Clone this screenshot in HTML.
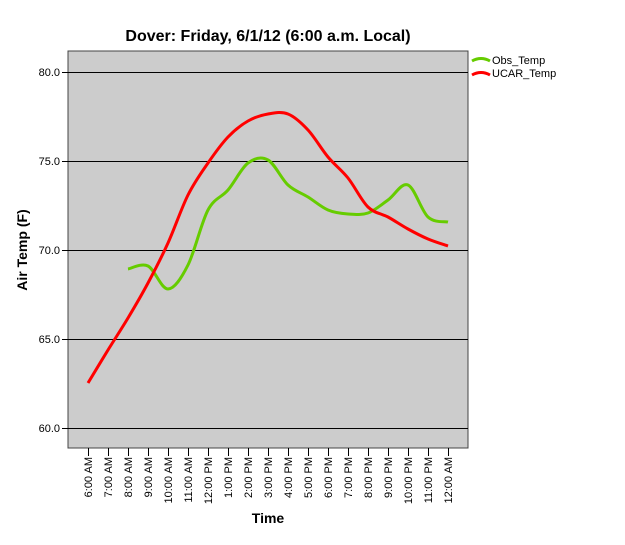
<!DOCTYPE html>
<html><head><meta charset="utf-8"><style>
body{margin:0;background:#fff;}
svg text{font-family:"Liberation Sans",Arial,sans-serif;}
</style></head><body>
<svg id="s" width="625" height="540" viewBox="0 0 625 540" xmlns="http://www.w3.org/2000/svg">
<rect width="625" height="540" fill="#fff"/>
<text x="268" y="41" font-size="16" font-weight="bold" text-anchor="middle">Dover: Friday, 6/1/12 (6:00 a.m. Local)</text>
<rect x="68" y="51" width="400" height="397" fill="#cccccc" stroke="#444" stroke-width="1"/>
<g stroke="#000" stroke-width="1">
<line x1="68" y1="72.5" x2="468" y2="72.5"/>
<line x1="68" y1="161.5" x2="468" y2="161.5"/>
<line x1="68" y1="250.5" x2="468" y2="250.5"/>
<line x1="68" y1="339.5" x2="468" y2="339.5"/>
<line x1="68" y1="428.5" x2="468" y2="428.5"/>
<line x1="62" y1="72.5" x2="68" y2="72.5"/>
<line x1="62" y1="161.5" x2="68" y2="161.5"/>
<line x1="62" y1="250.5" x2="68" y2="250.5"/>
<line x1="62" y1="339.5" x2="68" y2="339.5"/>
<line x1="62" y1="428.5" x2="68" y2="428.5"/>
</g>
<g font-size="11" text-anchor="end">
<text x="60" y="76">80.0</text>
<text x="60" y="165">75.0</text>
<text x="60" y="254">70.0</text>
<text x="60" y="343">65.0</text>
<text x="60" y="432">60.0</text>
</g>
<text transform="translate(27,250) rotate(-90)" font-size="14" font-weight="bold" text-anchor="middle">Air Temp (F)</text>
<text x="268" y="523" font-size="14" font-weight="bold" text-anchor="middle">Time</text>
<g id="ticks"></g>
<path id="obs" fill="none" stroke="#66cc00" stroke-width="3"/>
<path id="ucar" fill="none" stroke="#ff0000" stroke-width="3"/>
<path d="M472 61 q9 -5 18 0" fill="none" stroke="#66cc00" stroke-width="3"/>
<path d="M472 75 q9 -5 18 0" fill="none" stroke="#ff0000" stroke-width="3"/>
<text x="492" y="64" font-size="11">Obs_Temp</text>
<text x="492" y="77" font-size="11">UCAR_Temp</text>
</svg>
<script>
var labels=["6:00 AM","7:00 AM","8:00 AM","9:00 AM","10:00 AM","11:00 AM","12:00 PM","1:00 PM","2:00 PM","3:00 PM","4:00 PM","5:00 PM","6:00 PM","7:00 PM","8:00 PM","9:00 PM","10:00 PM","11:00 PM","12:00 AM"];
var g=document.getElementById('ticks'),h='';
labels.forEach(function(l,i){var x=88+20*i;
h+='<line x1="'+(x+.5)+'" y1="448" x2="'+(x+.5)+'" y2="456" stroke="#000"/>';
h+='<text transform="translate('+(x+4)+',457) rotate(-90)" font-size="11" text-anchor="end">'+l+'</text>';});
g.innerHTML=h;
function path(p){var d='M'+p[0][0]+' '+p[0][1];
for(var i=0;i<p.length-1;i++){var a=p[i-1]||p[i],b=p[i],c=p[i+1],e=p[i+2]||c;
d+=' C'+(b[0]+(c[0]-a[0])/6)+' '+(b[1]+(c[1]-a[1])/6)+' '+(c[0]-(e[0]-b[0])/6)+' '+(c[1]-(e[1]-b[1])/6)+' '+c[0]+' '+c[1];}
return d;}
var u=[383,350,318,283,243,195,163,137,121,114,114,130,157,178,207,217,229,239,246];
var o=[269,266,289,265,210,190,163,160,185,197,210,214,213,200,185,217,222];
document.getElementById('ucar').setAttribute('d',path(u.map(function(y,i){return[88+20*i,y]})));
document.getElementById('obs').setAttribute('d',path(o.map(function(y,i){return[128+20*i,y]})));
</script>
</body></html>
